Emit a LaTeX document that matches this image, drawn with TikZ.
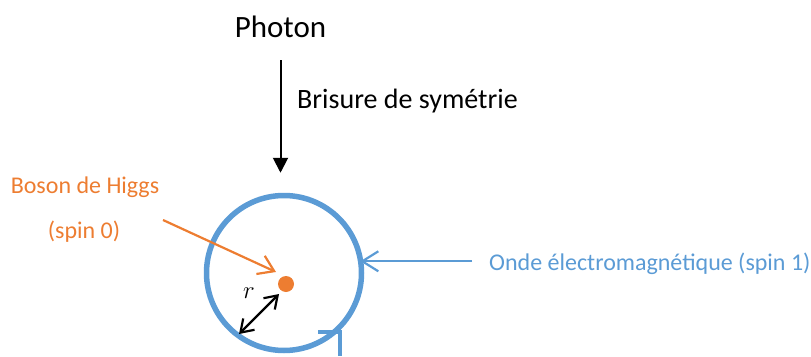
\documentclass[tikz,border=0pt]{standalone}
\usepackage{fontspec}
\setmainfont{Carlito}
\usepackage{xcolor}
\usepackage{tikz}
\usetikzlibrary{arrows.meta}
\definecolor{higgsorange}{HTML}{ED7D31}
\definecolor{ondeblue}{HTML}{5B9BD5}
\tikzset{
  lbl/.style={inner sep=0pt,font=\fontsize{24}{28}\selectfont},
  big/.style={inner sep=0pt,font=\fontsize{29}{34}\selectfont},
  karr/.style={-{Triangle[length=15pt,width=15pt]},line width=2pt},
  oarr/.style={-{Straight Barb[length=15pt,width=20pt]},line width=2.2pt,higgsorange},
  barr/.style={-{Straight Barb[length=16pt,width=20pt]},line width=2.2pt,ondeblue},
  rarr/.style={{Straight Barb[length=12pt,width=16pt]}-{Straight Barb[length=12pt,width=16pt]},line width=2.2pt},
}

\begin{document}
\begin{tikzpicture}[x=1pt,y=-1pt]
\useasboundingbox (0,0) rectangle (811,356);
\node[big,anchor=base,font=\fontsize{31}{36}\selectfont] (photon) at (280.5,37) {Photon};
\node[big,anchor=base west,font=\fontsize{28}{34}\selectfont] (brisure) at (297,108) {Brisure de symétrie};
\node[draw=ondeblue,circle,line width=5.5pt,minimum size=155pt,inner sep=0pt] (ring) at (284,273) {};
\node[circle,fill=higgsorange,minimum size=16pt,inner sep=0pt] (dot) at (286,284) {};
\node[lbl,anchor=base,text=higgsorange] (higgs) at (85,193) {Boson de Higgs};
\node[lbl,anchor=base,text=higgsorange] (spin0) at (84,238) {(spin 0)};
\node[lbl,anchor=base west,text=ondeblue] (onde) at (489,270) {Onde électromagnétique (spin 1)};
\node[inner sep=0pt,font=\fontsize{28}{32}\selectfont] (rlbl) at (249,293) {$r$};
\coordinate (hstart) at (163,220);
\draw[karr,shorten <=23pt,shorten >=20pt] (photon.south) -- (photon.south |- ring.north);
\draw[oarr] (hstart) -- ([xshift=-10pt,yshift=12pt]dot.center);
\draw[barr] ([xshift=-17pt,yshift=2pt]onde.west) -- ([xshift=-4pt,yshift=2pt]onde.west -| ring.east);
\draw[rarr] ([shift={(-7,10)}]dot.center) -- ([shift={(-47,50)}]dot.center);
\draw[ondeblue,line width=3.5pt] (318,332) -- (340,332) -- (340,356);
\end{tikzpicture}
\end{document}
